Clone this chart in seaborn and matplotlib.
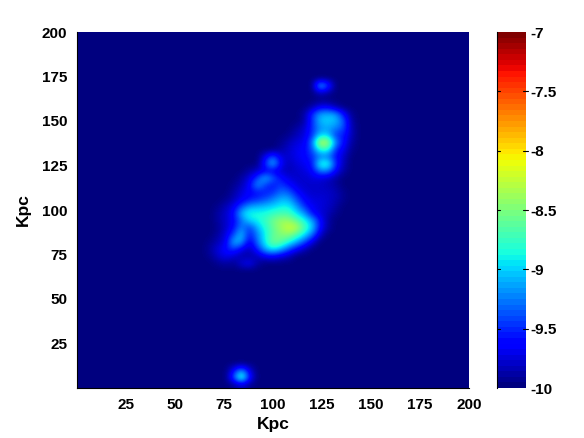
import numpy as np
import pandas as pd
import matplotlib
matplotlib.use("Agg")
import matplotlib.pyplot as plt
import seaborn as sns

# Values, log density, background is -10
x_ticks = [25, 50, 75, 100, 125, 150, 175, 200]
y_ticks = [25, 50, 75, 100, 125, 150, 175, 200]
cbar_ticks = [-7, -7.5, -8, -8.5, -9, -9.5, -10]
cbar_labels = ["-7", "-7.5", "-8", "-8.5", "-9", "-9.5", "-10"]
background = -10.0

# Main region, columns are x = 68, 72, ... 140 Kpc
active_x = list(range(68, 144, 4))
row_170 = [-10, -10, -10, -10, -10, -10, -10, -10, -10, -10, -10, -10, -10, -10, -8.95, -9.4, -10, -10, -10]
row_166 = [-10, -10, -10, -10, -10, -10, -10, -10, -10, -10, -10, -10, -10, -10, -9.8, -9.9, -10, -10, -10]
row_158 = [-10, -10, -10, -10, -10, -10, -10, -10, -10, -10, -10, -10, -10, -9.9, -9.7, -9.7, -9.9, -10, -10]
row_154 = [-10, -10, -10, -10, -10, -10, -10, -10, -10, -10, -10, -10, -9.9, -9.5, -9.15, -9.1, -9.15, -9.6, -9.95]
row_150 = [-10, -10, -10, -10, -10, -10, -10, -10, -10, -10, -10, -10, -9.9, -9.5, -9.05, -9.0, -9.05, -9.35, -9.9]
row_146 = [-10, -10, -10, -10, -10, -10, -10, -10, -10, -10, -10, -9.9, -9.8, -9.5, -9.2, -9.15, -9.25, -9.4, -9.85]
row_142 = [-10, -10, -10, -10, -10, -10, -10, -10, -10, -10, -9.95, -9.85, -9.75, -9.5, -9.0, -9.0, -9.5, -9.55, -9.85]
row_138 = [-10, -10, -10, -10, -10, -10, -10, -10, -10, -9.95, -9.85, -9.75, -9.7, -9.3, -8.2, -8.3, -9.2, -9.6, -9.9]
row_134 = [-10, -10, -10, -10, -10, -10, -10, -10, -10, -9.9, -9.8, -9.7, -9.65, -9.4, -8.8, -8.8, -9.5, -9.7, -9.95]
row_130 = [-10, -10, -10, -10, -10, -10, -10, -9.7, -9.35, -9.75, -9.8, -9.7, -9.65, -9.5, -9.3, -9.3, -9.6, -9.8, -10]
row_126 = [-10, -10, -10, -10, -10, -10, -10, -9.5, -9.0, -9.65, -9.85, -9.75, -9.7, -9.6, -8.8, -8.75, -9.5, -9.85, -10]
row_122 = [-10, -10, -10, -10, -10, -9.9, -9.8, -9.7, -9.7, -9.8, -9.85, -9.8, -9.75, -9.65, -9.25, -9.25, -9.65, -9.9, -10]
row_118 = [-10, -10, -10, -10, -9.9, -9.75, -9.45, -9.05, -9.35, -9.6, -9.75, -9.8, -9.8, -9.75, -9.75, -9.8, -9.9, -10, -10]
row_114 = [-10, -10, -10, -9.95, -9.85, -9.65, -9.15, -9.45, -9.6, -9.45, -9.6, -9.75, -9.8, -9.8, -9.8, -9.85, -9.9, -10, -10]
row_110 = [-10, -10, -10, -9.9, -9.75, -9.65, -9.6, -9.55, -9.5, -9.3, -9.35, -9.6, -9.75, -9.8, -9.8, -9.8, -9.85, -9.95, -10]
row_106 = [-10, -10, -9.95, -9.85, -9.7, -9.6, -9.5, -9.4, -9.25, -9.1, -9.1, -9.4, -9.65, -9.75, -9.75, -9.8, -9.85, -9.95, -10]
row_102 = [-10, -9.95, -9.85, -9.7, -9.4, -9.15, -9.1, -9.05, -9.0, -8.9, -8.9, -9.15, -9.5, -9.7, -9.75, -9.8, -9.9, -10, -10]
row_98 = [-10, -9.9, -9.8, -9.6, -9.05, -8.85, -8.85, -8.85, -8.75, -8.7, -8.7, -8.95, -9.15, -9.6, -9.75, -9.85, -9.95, -10, -10]
row_94 = [-10, -9.9, -9.8, -9.65, -9.3, -9.0, -8.9, -8.75, -8.55, -8.4, -8.4, -8.6, -8.85, -9.1, -9.6, -9.9, -10, -10, -10]
row_90 = [-10, -9.95, -9.8, -9.6, -9.2, -9.5, -9.1, -8.85, -8.6, -8.4, -8.2, -8.25, -8.7, -9.0, -9.6, -9.9, -10, -10, -10]
row_86 = [-10, -9.9, -9.75, -9.4, -9.0, -9.6, -9.25, -8.9, -8.6, -8.5, -8.45, -8.7, -8.95, -9.3, -9.8, -10, -10, -10, -10]
row_82 = [-9.95, -9.85, -9.7, -9.05, -9.15, -9.75, -9.3, -8.9, -8.55, -8.6, -8.85, -9.1, -9.4, -9.75, -10, -10, -10, -10, -10]
row_78 = [-9.9, -9.75, -9.6, -9.45, -9.7, -9.85, -9.55, -9.1, -8.9, -9.1, -9.4, -9.65, -9.85, -10, -10, -10, -10, -10, -10]
row_74 = [-9.95, -9.8, -9.7, -9.8, -9.9, -9.9, -9.85, -9.7, -9.65, -9.75, -9.85, -10, -10, -10, -10, -10, -10, -10, -10]
row_70 = [-10, -9.95, -9.9, -9.95, -9.75, -9.65, -9.9, -10, -10, -10, -10, -10, -10, -10, -10, -10, -10, -10, -10]

active_rows = {170: row_170, 166: row_166, 158: row_158, 154: row_154, 150: row_150,
               146: row_146, 142: row_142, 138: row_138, 134: row_134, 130: row_130,
               126: row_126, 122: row_122, 118: row_118, 114: row_114, 110: row_110,
               106: row_106, 102: row_102, 98: row_98, 94: row_94, 90: row_90,
               86: row_86, 82: row_82, 78: row_78, 74: row_74, 70: row_70}

# Small spot near the bottom
spot_x = [80, 84, 88]
spot_10 = [-9.65, -9.2, -9.75]
spot_6 = [-9.35, -8.55, -9.55]
spot_2 = [-9.95, -9.8, -9.95]
spot_rows = {10: spot_10, 6: spot_6, 2: spot_2}

# Full grid: x = 0, 4, ... 200 and y = 198, 194, ... 2
grid_x = list(range(0, 204, 4))
grid_y = list(range(198, -2, -4))
df = pd.DataFrame(background, index=grid_y, columns=grid_x)
for y_val, row in active_rows.items():
    df.loc[y_val, active_x] = row
for y_val, row in spot_rows.items():
    df.loc[y_val, spot_x] = row

sns.set_theme(style="white")
plt.rcParams["font.family"] = ["Liberation Sans", "DejaVu Sans"]
plt.rcParams["font.weight"] = "bold"

cmap = plt.get_cmap("jet", 64)

fig = plt.figure(figsize=(5.84, 4.38), dpi=100)
ax = fig.add_axes([77 / 584, 1 - 388 / 438, 392 / 584, 356 / 438])
cax = fig.add_axes([497 / 584, 1 - 388 / 438, 29 / 584, 356 / 438])

sns.heatmap(df, ax=ax, cbar_ax=cax, cmap=cmap, vmin=-10, vmax=-7, xticklabels=False, yticklabels=False)

# Smooth the same cells, the reference is interpolated
mesh = ax.collections[0]
mesh.set_visible(False)
ax.imshow(df.values, cmap=plt.get_cmap("jet"), norm=mesh.norm, interpolation="bicubic",
          extent=(0, len(grid_x), len(grid_y), 0), aspect="auto")
ax.set_xlim(0.5, 50.5)
ax.set_ylim(50, 0)

ax.set_xticks([v / 4 + 0.5 for v in x_ticks])
ax.set_xticklabels(x_ticks)
ax.set_yticks([(200 - v) / 4 for v in y_ticks])
ax.set_yticklabels(y_ticks, rotation=0)
ax.tick_params(length=0, labelsize=11, pad=7, colors="black")
ax.set_xlabel("Kpc", fontsize=12.5, fontweight="bold", labelpad=4, color="black")
ax.set_ylabel("Kpc", fontsize=12.5, fontweight="bold", labelpad=8, color="black")
for spine in ax.spines.values():
    spine.set_visible(True)
    spine.set_linewidth(0.8)
    spine.set_color("black")
ax.spines["top"].set_visible(False)
ax.spines["right"].set_visible(False)

cbar = mesh.colorbar
cbar.set_ticks(cbar_ticks)
cbar.set_ticklabels(cbar_labels)
cbar.ax.tick_params(length=0, labelsize=11, pad=3, colors="black")
for tick in cbar_ticks[1:-1]:
    cax.plot([0, 0.12], [tick, tick], color="black", lw=0.8, transform=cax.get_yaxis_transform())
    cax.plot([0.88, 1.08], [tick, tick], color="black", lw=0.8, transform=cax.get_yaxis_transform(), clip_on=False)
cbar.outline.set_visible(False)
cax.spines["left"].set_visible(True)
cax.spines["left"].set_color("black")
cax.spines["left"].set_linewidth(0.8)

fig.savefig("out.png", dpi=100)
